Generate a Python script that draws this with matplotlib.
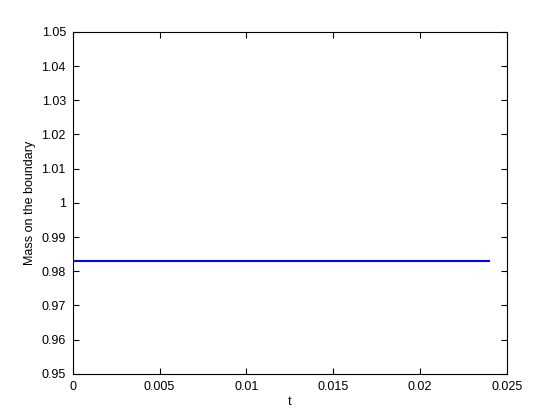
import numpy as np
import matplotlib
matplotlib.use("Agg")
import matplotlib.pyplot as plt

# mass on the boundary vs time (constant)
t = [0.0, 0.024]
mass = [0.983, 0.983]

xticks = [0, 0.005, 0.01, 0.015, 0.02, 0.025]
xlabels = ["0", "0.005", "0.01", "0.015", "0.02", "0.025"]
yticks = [0.95, 0.96, 0.97, 0.98, 0.99, 1.0, 1.01, 1.02, 1.03, 1.04, 1.05]
ylabels = ["0.95", "0.96", "0.97", "0.98", "0.99", "1", "1.01", "1.02", "1.03", "1.04", "1.05"]

plt.rcParams['font.family'] = ['Liberation Sans', 'DejaVu Sans']
plt.rcParams['font.size'] = 9

fig = plt.figure(figsize=(5.6, 4.2), dpi=100)
ax = fig.add_axes([0.13, 0.11, 0.775, 0.814])
ax.plot(t, mass, color=(0, 0, 1), lw=1.5)

ax.set_xlim(0, 0.025)
ax.set_ylim(0.95, 1.05)
ax.set_xticks(xticks)
ax.set_xticklabels(xlabels)
ax.set_yticks(yticks)
ax.set_yticklabels(ylabels)
ax.tick_params(direction='in', length=4, width=0.8, top=True, right=True, pad=5)
for s in ax.spines.values():
    s.set_linewidth(0.8)

ax.set_xlabel("t", labelpad=2)
ax.set_ylabel("Mass on the boundary", labelpad=4)

fig.savefig("out.png", dpi=100)
